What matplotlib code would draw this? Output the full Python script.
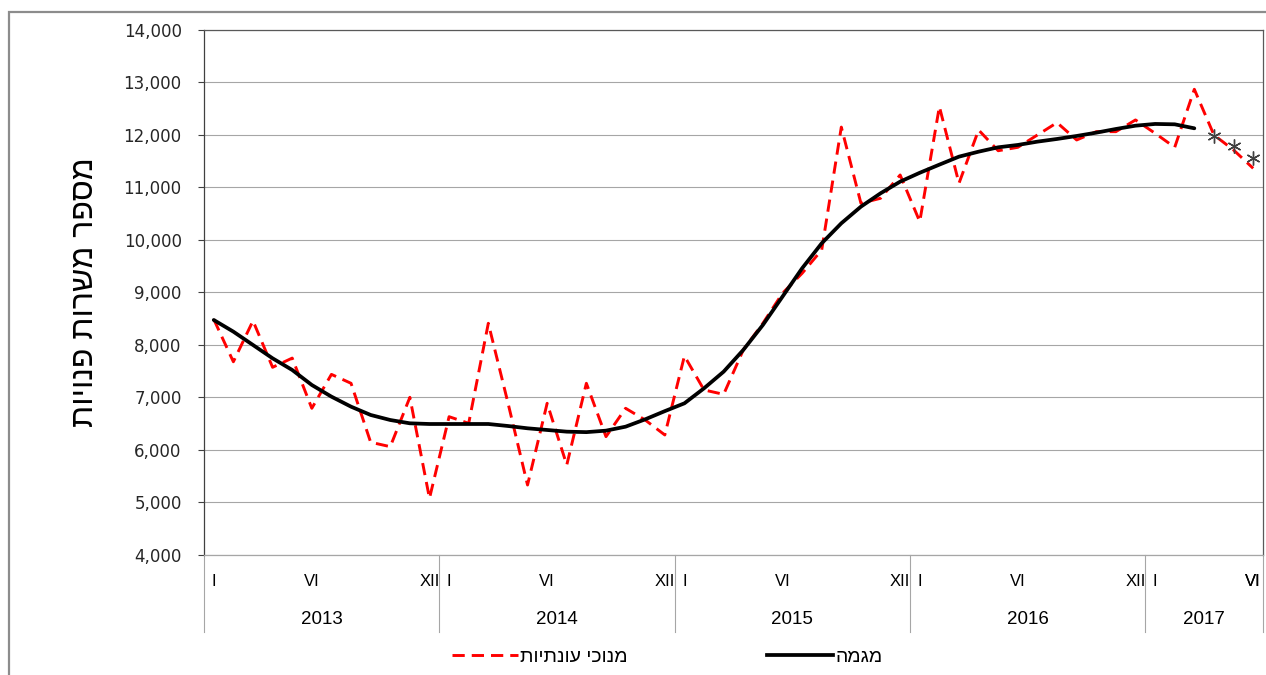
import matplotlib
matplotlib.use("Agg")
import matplotlib.pyplot as plt
from matplotlib.patches import Rectangle
from matplotlib.lines import Line2D
from matplotlib.ticker import FuncFormatter, MultipleLocator
import numpy as np

# ------------------------------
# data (monthly, Jan 2013 - Jun 2017)
# ------------------------------
years = [2013, 2014, 2015, 2016, 2017]
months_per_year = [12, 12, 12, 12, 6]
month_labels = {0: "I", 5: "VI", 11: "XII"}

seasonal_adj = [
    8490, 7680, 8460, 7575, 7750, 6794, 7440, 7270, 6147, 6063, 7003, 5080,
    6634, 6508, 8413, 6900, 5333, 6889, 5714, 7270, 6254, 6794, 6571, 6286,
    7790, 7143, 7060, 7905, 8413, 8985, 9365, 9810, 12150, 10699, 10794, 11238,
    10350, 12540, 11080, 12095, 11700, 11765, 12000, 12235, 11905, 12063, 12063, 12286,
    12032, 11765, 12870, 12000, 11714, 11365,
]
trend = [
    8476, 8254, 8000, 7746, 7524, 7238, 7016, 6825, 6667, 6571, 6508, 6495,
    6495, 6495, 6495, 6457, 6413, 6381, 6349, 6340, 6368, 6444, 6584, 6740,
    6889, 7175, 7492, 7905, 8381, 8921, 9460, 9937, 10318, 10635, 10889, 11111,
    11280, 11435, 11587, 11682, 11765, 11810, 11873, 11924, 11981, 12044, 12114, 12177,
    12210, 12203, 12127, np.nan, np.nan, np.nan,
]
trend_estimate = [np.nan] * 51 + [11980, 11790, 11560]

# Hebrew strings, reversed for display (matplotlib has no bidi)
ylabel_txt = "מספר משרות פנויות"[::-1]
lbl_sa = "מנוכי עונתיות"[::-1]
lbl_trend = "מגמה"[::-1]

# ------------------------------
# figure
# ------------------------------
fig = plt.figure(figsize=(12.66, 6.75), dpi=100)
ax = fig.add_axes([0.1611, 0.1778, 0.8365, 0.7778])

x = np.arange(len(seasonal_adj))

ax.plot(x, seasonal_adj, color="#ff0000", lw=2.1, linestyle=(0, (4.2, 2.4)),
        zorder=3)
ax.plot(x, trend, color="black", lw=2.7, solid_capstyle="round",
        solid_joinstyle="round", zorder=4)
ax.plot(x, trend_estimate, linestyle="none", marker=(6, 2, 0), markersize=10,
        markeredgewidth=1.0, color="#404040", zorder=5)

# y axis
ax.set_ylim(4000, 14000)
ax.yaxis.set_major_locator(MultipleLocator(1000))
ax.yaxis.set_major_formatter(FuncFormatter(lambda v, p: f"{int(v):,}"))
ax.grid(axis="y", color="#a6a6a6", lw=0.8)
ax.set_axisbelow(True)
ax.tick_params(axis="y", length=4, width=0.8, color="#404040", pad=12,
               labelsize=12, labelcolor="#262626")
for t in ax.get_yticklabels():
    t.set_fontfamily("DejaVu Sans")

ax.set_ylabel(ylabel_txt, fontsize=23, family="Liberation Sans", labelpad=17)

# x axis: categories
ax.set_xlim(-0.5, len(x) - 0.5)
ticks, tlabels = [], []
start = 0
for n in months_per_year:
    for m, l in month_labels.items():
        if m < n:
            ticks.append(start + m)
            tlabels.append(l)
    if n < 12:
        ticks.append(start + n - 1)
        tlabels.append("VI")
    start += n
ax.set_xticks(ticks)
ax.set_xticklabels(tlabels, family="Liberation Sans", fontsize=12)
ax.tick_params(axis="x", length=0, pad=14)

# year labels and separators
trans = ax.get_xaxis_transform()
start = 0
bounds = [-0.5]
for yr, n in zip(years, months_per_year):
    ax.text(start + (n - 1) / 2, -0.122, str(yr), transform=trans,
            ha="center", va="center", fontsize=13.5, family="Liberation Sans")
    start += n
    bounds.append(start - 0.5)
for b in bounds:
    ax.plot([b, b], [0, -0.147], transform=trans, color="#a6a6a6", lw=0.8,
            clip_on=False)

# spines
ax.spines["left"].set_color("#404040")
ax.spines["top"].set_color("#595959")
ax.spines["right"].set_color("#595959")
ax.spines["bottom"].set_color("#a6a6a6")
for s in ax.spines.values():
    s.set_linewidth(0.9)

# outer chart frame (cut off at right and bottom)
fig.patches.append(Rectangle((0.0071, -0.2), 1.3, 0.9822 + 0.2,
                             transform=fig.transFigure, fill=False,
                             edgecolor="#8c8c8c", lw=1.6))

# legend
handles = [
    Line2D([], [], color="#ff0000", lw=2.1, linestyle=(0, (4.2, 2.4))),
    Line2D([], [], color="black", lw=2.7),
]
fig.legend(handles, [lbl_sa, lbl_trend], loc="center",
           bbox_to_anchor=(0.527, 0.027), ncol=2, frameon=False,
           handlelength=3.4, handletextpad=0.1, columnspacing=7.2,
           prop={"family": "Liberation Sans", "size": 14})

fig.savefig("out.png", dpi=100)
